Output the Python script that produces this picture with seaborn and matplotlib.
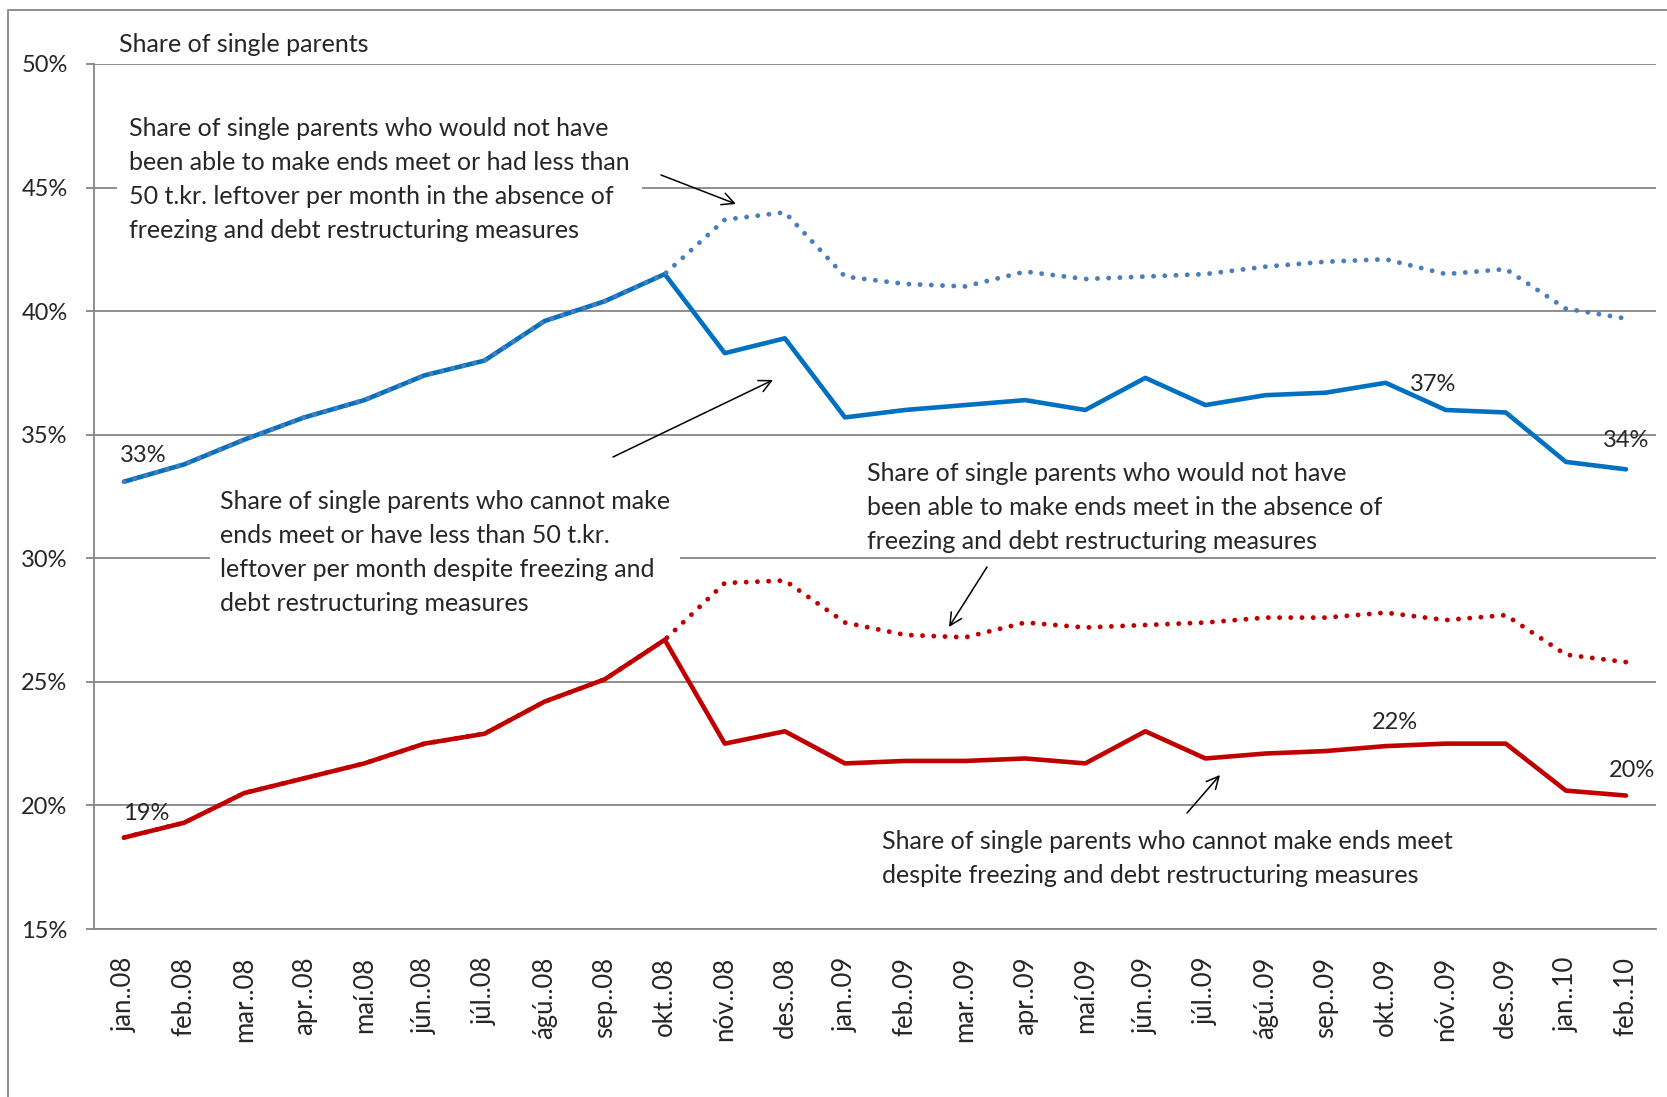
import pandas as pd
import seaborn as sns
import matplotlib.pyplot as plt
from matplotlib.patches import Rectangle
from matplotlib.ticker import FixedLocator, FuncFormatter, MultipleLocator

# month categories on the x axis
months = ["jan..08", "feb..08", "mar..08", "apr..08", "maí.08", "jún..08", "júl..08",
          "ágú..08", "sep..08", "okt..08", "nóv..08", "des..08", "jan..09", "feb..09",
          "mar..09", "apr..09", "maí.09", "jún..09", "júl..09", "ágú..09", "sep..09",
          "okt..09", "nóv..09", "des..09", "jan..10", "feb..10"]

# share of single parents (%)
blue_despite = [33.1, 33.8, 34.8, 35.7, 36.4, 37.4, 38.0, 39.6, 40.4, 41.5, 38.3, 38.9, 35.7,
                36.0, 36.2, 36.4, 36.0, 37.3, 36.2, 36.6, 36.7, 37.1, 36.0, 35.9, 33.9, 33.6]
blue_absence = [33.1, 33.8, 34.8, 35.7, 36.4, 37.4, 38.0, 39.6, 40.4, 41.5, 43.7, 44.0, 41.4,
                41.1, 41.0, 41.6, 41.3, 41.4, 41.5, 41.8, 42.0, 42.1, 41.5, 41.7, 40.1, 39.7]
red_despite = [18.7, 19.3, 20.5, 21.1, 21.7, 22.5, 22.9, 24.2, 25.1, 26.7, 22.5, 23.0, 21.7,
               21.8, 21.8, 21.9, 21.7, 23.0, 21.9, 22.1, 22.2, 22.4, 22.5, 22.5, 20.6, 20.4]
red_absence = [18.7, 19.3, 20.5, 21.1, 21.7, 22.5, 22.9, 24.2, 25.1, 26.7, 29.0, 29.1, 27.4,
               26.9, 26.8, 27.4, 27.2, 27.3, 27.4, 27.6, 27.6, 27.8, 27.5, 27.7, 26.1, 25.8]

text_top = ("Share of single parents who would not have\n"
            "been able to make ends meet or had less than\n"
            "50 t.kr. leftover per month in the absence of\n"
            "freezing and debt restructuring measures")
text_blue = ("Share of single parents who cannot make\n"
             "ends meet or have less than 50 t.kr.\n"
             "leftover per month despite freezing and\n"
             "debt restructuring measures")
text_red_abs = ("Share of single parents who would not have\n"
                "been able to make ends meet in the absence of\n"
                "freezing and debt restructuring measures")
text_red = ("Share of single parents who cannot make ends meet\n"
            "despite freezing and debt restructuring measures")

BLUE = "#0070C0"
BLUE_DOT = "#4A7EBB"
RED = "#C00000"
GRID = "#868686"

df = pd.DataFrame({
    "pos": range(len(months)),
    "blue_despite": blue_despite,
    "blue_absence": blue_absence,
    "red_despite": red_despite,
    "red_absence": red_absence,
})

sns.set_style("white")
plt.rcParams["font.family"] = ["Lato", "DejaVu Sans"]
FS = 18
LS = 1.58

W, H = 1667, 1097
fig = plt.figure(figsize=(W / 100, H / 100), dpi=100)
ax = fig.add_axes([94 / W, 1 - 929 / H, (1656 - 94) / W, (929 - 64) / H])

dots = (0, (0.01, 2.3))
sns.lineplot(data=df, x="pos", y="blue_despite", ax=ax, color=BLUE, lw=3.3, zorder=3)
sns.lineplot(data=df, x="pos", y="blue_absence", ax=ax, color=BLUE_DOT, lw=3.5,
             linestyle=dots, dash_capstyle="round", zorder=4)
sns.lineplot(data=df, x="pos", y="red_despite", ax=ax, color=RED, lw=3.3, zorder=3)
sns.lineplot(data=df, x="pos", y="red_absence", ax=ax, color=RED, lw=3.5,
             linestyle=dots, dash_capstyle="round", zorder=4)

ax.set_xlim(-0.5, len(months) - 0.5)
ax.set_ylim(15, 50)
ax.set_xlabel("")
ax.set_ylabel("")

# axes styling, Excel-like
ax.yaxis.set_major_locator(MultipleLocator(5))
ax.yaxis.set_major_formatter(FuncFormatter(lambda v, p: f"{v:.0f}%"))
ax.grid(axis="y", color=GRID, lw=1.3, zorder=0)
ax.grid(axis="x", visible=False)
for s in ["top", "right"]:
    ax.spines[s].set_visible(False)
for s in ["left", "bottom"]:
    ax.spines[s].set_color(GRID)
    ax.spines[s].set_linewidth(1.3)

ax.set_xticks(range(len(months)))
ax.set_xticklabels(months, rotation=90, fontsize=18.5)
ax.xaxis.set_minor_locator(FixedLocator([i - 0.5 for i in range(len(months) + 1)]))
ax.tick_params(axis="x", which="major", length=0, pad=20)
ax.tick_params(axis="x", which="minor", length=6, width=1.3, color=GRID, direction="out")
ax.tick_params(axis="y", length=6, width=1.3, color=GRID, pad=13, labelsize=17, left=True)

ax.text(119 / W, 1 - 44 / H, "Share of single parents", transform=fig.transFigure,
        fontsize=FS, va="center", ha="left")

# value labels at selected points
labels = [
    ("blue_despite", 0, (14, 19)),
    ("red_despite", 0, (16, 17)),
    ("blue_despite", 21, (34, -1)),
    ("blue_despite", 25, (0, 21)),
    ("red_despite", 21, (7, 17)),
    ("red_despite", 25, (4, 18)),
]
for col, i, off in labels:
    v = df[col][i]
    ax.annotate(f"{v:.0f}%", (i, v), xytext=off, textcoords="offset points",
                ha="center", va="center", fontsize=17, zorder=6)

# text boxes (white background only where the original hides gridlines)
ax.text(129 / W, 1 - 117 / H, text_top, transform=fig.transFigure, fontsize=FS,
        va="top", ha="left", linespacing=LS,
        bbox=dict(boxstyle="square,pad=0.5", fc="white", ec="none"), zorder=5)
ax.text(220 / W, 1 - 490 / H, text_blue, transform=fig.transFigure, fontsize=FS,
        va="top", ha="left", linespacing=LS,
        bbox=dict(boxstyle="square,pad=0.4", fc="white", ec="none"), zorder=5)
ax.text(867 / W, 1 - 462 / H, text_red_abs, transform=fig.transFigure, fontsize=FS,
        va="top", ha="left", linespacing=LS, zorder=5)
ax.text(882 / W, 1 - 830 / H, text_red, transform=fig.transFigure, fontsize=FS,
        va="top", ha="left", linespacing=LS, zorder=5)

arrows = [((661, 175), (736, 204)), ((613, 457), (773, 380)),
          ((987, 567), (949, 627)), ((1187, 813), (1220, 775))]
for (x0, y0), (x1, y1) in arrows:
    ax.annotate("", xy=(x1 / W, 1 - y1 / H), xytext=(x0 / W, 1 - y0 / H),
                xycoords="figure fraction", textcoords="figure fraction",
                arrowprops=dict(arrowstyle="->", color="black", lw=1.1,
                                mutation_scale=22, shrinkA=0, shrinkB=0), zorder=6)

# outer chart border
fig.add_artist(Rectangle((8 / W, -0.05), 1.1, 1 - 10 / H + 0.05, transform=fig.transFigure,
                         fill=False, ec=GRID, lw=1.3))

fig.savefig("out.png", dpi=100)
